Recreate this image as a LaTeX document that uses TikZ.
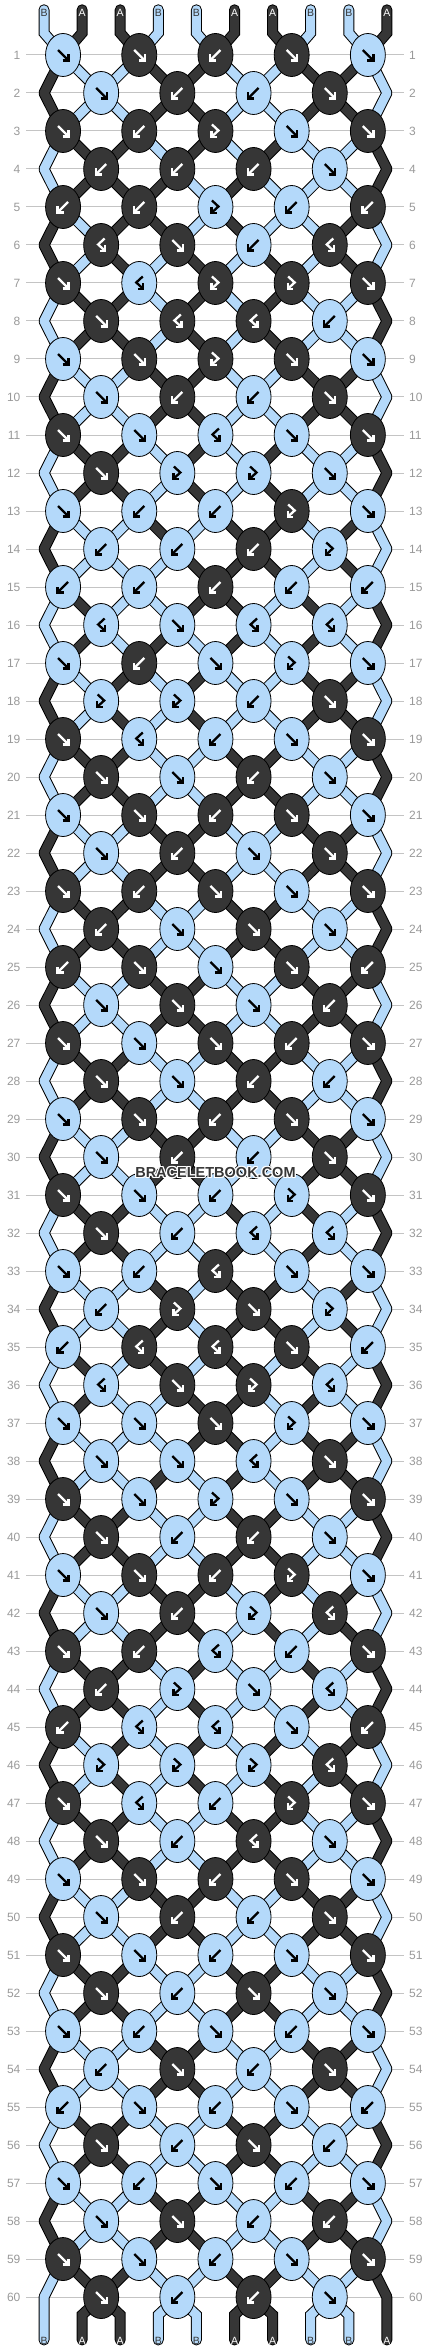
\documentclass[tikz,border=0pt]{standalone}
\usepackage{fontspec}
\setmainfont{Liberation Sans}
\usetikzlibrary{shapes.geometric}
\definecolor{colB}{HTML}{B4D9FA}
\definecolor{colA}{HTML}{363636}
\definecolor{gridgrey}{HTML}{C4C4C4}
\definecolor{numgrey}{HTML}{999999}
\colorlet{inkA}{white}
\colorlet{inkB}{black}
\colorlet{labA}{white}
\colorlet{labB}{colA}

% knot glyphs per row: f forward, b backward, F forward-backward, B backward-forward
\newcommand\knotrows{%
{f,f,b,f,f},{f,b,b,f},{f,b,F,f,f},{b,b,b,f},{b,b,F,b,b},%
{B,f,b,B},{f,B,F,F,f},{f,B,B,b},{f,f,F,f,f},{f,b,b,f},%
{f,f,B,f,f},{f,F,F,f},{f,b,b,F,f},{b,b,b,F},{b,b,b,b,b},%
{B,f,B,B},{f,b,f,F,f},{F,F,b,f},{f,B,b,f,f},{f,f,b,f},%
{f,f,b,f,f},{f,b,f,f},{f,b,f,f,f},{b,f,f,f},{b,f,f,f,b},%
{f,f,f,b},{f,f,f,b,f},{f,f,b,b},{f,f,b,f,f},{f,b,b,f},%
{f,f,b,F,f},{f,b,B,B},{f,b,B,f,f},{b,F,f,F},{b,B,B,f,b},%
{B,f,F,B},{f,f,f,F,f},{f,f,B,f},{f,f,F,f,f},{f,b,b,f},%
{f,f,b,F,f},{f,b,F,B},{f,b,B,b,f},{b,F,f,B},{b,B,B,f,b},%
{F,F,F,B},{f,B,b,F,f},{f,b,B,f},{f,f,b,f,f},{f,b,b,f},%
{f,f,b,f,f},{f,b,f,f},{f,b,f,b,f},{b,f,b,f},{b,f,b,f,b},%
{f,b,f,b},{f,b,f,b,f},{f,f,b,b},{f,f,b,f,f},{f,b,b,f}%
}
% swap the strings at two positions
\newcommand\swapstr[2]{%
  \edef\bbL{\csname str#1\endcsname}\edef\bbR{\csname str#2\endcsname}%
  \expandafter\xdef\csname str#1\endcsname{\bbR}%
  \expandafter\xdef\csname str#2\endcsname{\bbL}}
% add a piece of string (colour letter, path)
\newcommand\outlpath{}
\newcommand\pathA{}
\newcommand\pathB{}
\newcommand\knotcmds{}
\newcommand\addseg[2]{%
  \xdef\outlpath{\outlpath #2}%
  \expandafter\xdef\csname path#1\endcsname{\csname path#1\endcsname #2}}
% one knot: row, number, left position, colour letter, glyph
\newcommand\drawknot[5]{%
  \node[knotnode,fill=col#4] (k-#1-#2) at (#3+0.5,-#1) {};
  \pic[ink#4] at (k-#1-#2) {arr#5};}

\tikzset{
  knotnode/.style={ellipse,draw=black,line width=0.8pt,minimum width=35pt,minimum height=43pt,inner sep=0pt},
  strand/.style={line width=9pt,line cap=round,line join=miter},
  strandedge/.style={line width=11pt,line cap=round,line join=miter,black},
  glyph/.style={line width=2.3pt,line cap=butt,line join=miter},
  rownum/.style={text=numgrey,inner sep=0pt,font=\fontsize{12}{12}\selectfont},
  endlabel/.style={inner sep=0pt,font=\fontsize{10.5}{10.5}\selectfont},
  pics/arrf/.style={code={
    \draw[glyph] (-5pt,5pt) -- (5pt,-5pt);
    \draw[glyph] (-0.5pt,-5.5pt) -- (5.5pt,-5.5pt) -- (5.5pt,0.5pt);}},
  pics/arrb/.style={code={
    \draw[glyph] (5pt,5pt) -- (-5pt,-5pt);
    \draw[glyph] (0.5pt,-5.5pt) -- (-5.5pt,-5.5pt) -- (-5.5pt,0.5pt);}},
  pics/arrF/.style={code={
    \draw[glyph] (-3.5pt,6.5pt) -- (3pt,0.5pt) -- (-3pt,-5pt);
    \draw[glyph] (-4pt,0pt) -- (-4pt,-6pt) -- (1.5pt,-6pt);}},
  pics/arrB/.style={code={
    \draw[glyph] (3.5pt,6.5pt) -- (-3pt,0.5pt) -- (3pt,-5pt);
    \draw[glyph] (4pt,0pt) -- (4pt,-6pt) -- (-1.5pt,-6pt);}}
}

\begin{document}
\begin{tikzpicture}[x=38.1pt,y=38pt]
\useasboundingbox (-0.155,0.447) rectangle (11.131,-61.447);

% row lines and numbers
\foreach \r in {1,...,60} {
  \draw[gridgrey,line width=1pt] (0.53,-\r) -- (10.45,-\r);
  \node[rownum,anchor=east] (numl-\r) at (0.385,-\r) {\r};
  \node[rownum,anchor=west] (numr-\r) at (10.58,-\r) {\r};
}

% strings at the top
\foreach \c [count=\p] in {B,A,A,B,B,A,A,B,B,A} {
  \expandafter\xdef\csname str\p\endcsname{\c}
  \pgfmathsetmacro\xk{2*ceil(\p/2)-0.5}
  \addseg{\c}{(\p,0.19) -- (\p,-0.42) -- (\xk,-1)}
}

% rows of knots
\foreach \row [count=\r] in \knotrows {
  \ifnum\r>1
    \foreach \p in {1,...,10} {
      \pgfmathsetmacro\xa{mod(\r-1,2)==1 ? 2*ceil(\p/2)-0.5 : (\p==1 ? 1 : (\p==10 ? 10 : 2*floor(\p/2)+0.5))}
      \pgfmathsetmacro\xb{mod(\r,2)==1 ? 2*ceil(\p/2)-0.5 : (\p==1 ? 1 : (\p==10 ? 10 : 2*floor(\p/2)+0.5))}
      \pgfmathtruncatemacro\ra{\r-1}
      \addseg{\csname str\p\endcsname}{(\xa,-\ra) -- (\xb,-\r)}
    }
  \fi
  \foreach \g [count=\k] in \row {
    \pgfmathtruncatemacro\pl{mod(\r,2)==1 ? 2*\k-1 : 2*\k}
    \pgfmathtruncatemacro\pr{\pl+1}
    \edef\kc{\if\g f\csname str\pl\endcsname\else\if\g F\csname str\pl\endcsname\else\csname str\pr\endcsname\fi\fi}
    \xdef\knotcmds{\unexpanded\expandafter{\knotcmds}\noexpand\drawknot{\r}{\k}{\pl}{\kc}{\g}}
    \if\g f\swapstr\pl\pr\fi
    \if\g b\swapstr\pl\pr\fi
  }
}

% strings at the bottom
\foreach \p in {1,...,10} {
  \pgfmathsetmacro\xa{\p==1 ? 1 : (\p==10 ? 10 : 2*floor(\p/2)+0.5)}
  \pgfmathsetmacro\ya{(\p==1 || \p==10) ? -60 : -60.47}
  \addseg{\csname str\p\endcsname}{(\xa,-60) -- (\p,\ya) -- (\p,-61.13)}
}

\draw[strandedge] \outlpath;
\draw[strand,colA] \pathA;
\draw[strand,colB] \pathB;
\knotcmds

% end labels
\foreach \c [count=\p] in {B,A,A,B,B,A,A,B,B,A}
  \node[endlabel,text=lab\c] (top-\p) at (\p,0.12) {\c};
\foreach \p in {1,...,10} {
  \edef\sc{\csname str\p\endcsname}
  \node[endlabel,text=lab\sc] (bot-\p) at (\p,-61.16) {\sc};
}

% watermark
\foreach \dx/\dy [count=\i] in {1/0,-1/0,0/1,0/-1,1/1,1/-1,-1/1,-1/-1} {
  \node[white,font=\bfseries\fontsize{14.5}{15}\selectfont] (wm-\i) at ([shift={(\dx pt,\dy pt)}]5.5,-30.42) {BRACELETBOOK.COM};
}
\node[colA,font=\bfseries\fontsize{14.5}{15}\selectfont] (wm) at (5.5,-30.42) {BRACELETBOOK.COM};
\end{tikzpicture}
\end{document}
